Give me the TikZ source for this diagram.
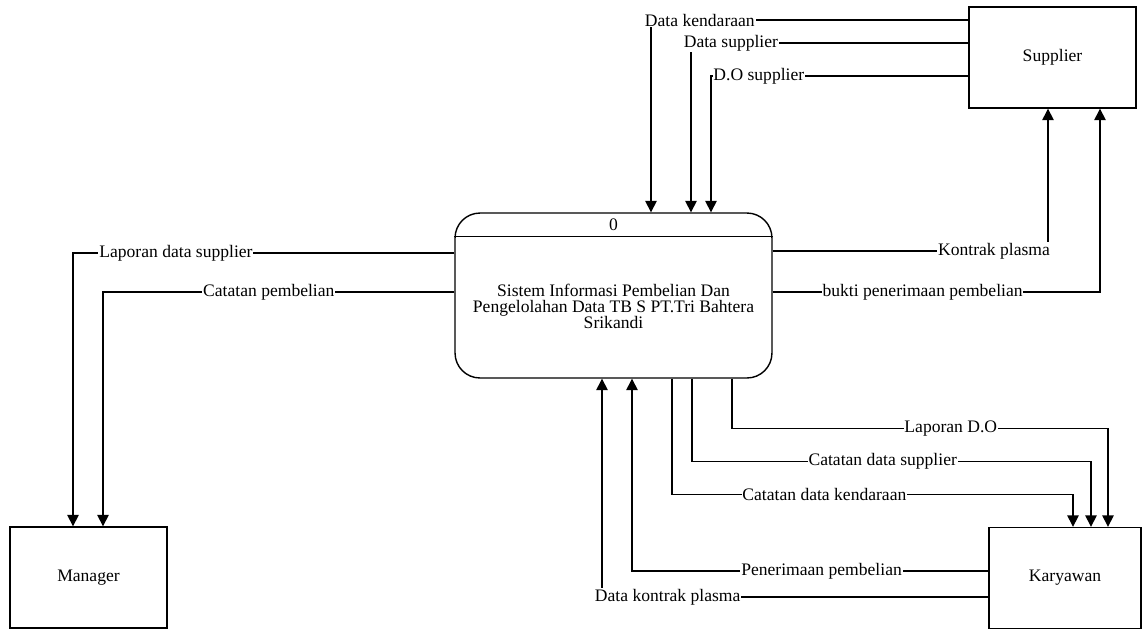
\documentclass[tikz,border=0pt]{standalone}
\usepackage{fontspec}
\setmainfont{Liberation Serif}
\usetikzlibrary{arrows.meta}

\begin{document}
\begin{tikzpicture}[x=0.02cm,y=-0.02cm]
   \tikzstyle{entity}=[draw,thick,minimum height=2.02cm,font=\fontsize{10}{12}\selectfont]
   \tikzstyle{process}=[draw,thick,rounded corners=0.5cm,minimum width=6.34cm,minimum height=3.3cm]
   \tikzstyle{arrow}=[thick,draw,-{Triangle[length=6.5pt,width=6.5pt]}]
   \tikzstyle{flow}=[fill=white,inner sep=0.5pt,font=\fontsize{10}{12}\selectfont]
   \useasboundingbox (0,0) rectangle (1142,630) ;
   \node (sup) [entity,minimum width=3.34cm] at (1052.5,57.5) {Supplier} ;
   \node (man) [entity,minimum width=3.14cm] at (88.5,577.5) {Manager} ;
   \node (kar) [entity,minimum width=3.04cm] at (1065,578) {Karyawan} ;
   \node (proc) [process] at (613.5,295.5) {} ;
   \node (pid) [font=\fontsize{10}{12}\selectfont] at (613.5,225) {0} ;
   \node (pname) [align=center,font=\fontsize{10}{9.1}\selectfont] at (613.5,306) {Sistem Informasi Pembelian Dan\\Pengelolahan Data TB S PT.Tri Bahtera\\Srikandi} ;
   \path [draw,thick] ([yshift=-0.48cm]proc.north west) -- ([yshift=-0.48cm]proc.north east) ;
   % supplier -> sistem
   \path [arrow] ([yshift=0.75cm]sup.west) -| node [flow,pos=0.423] {Data kendaraan} ([xshift=0.75cm]proc.north) ;
   \path [arrow] ([yshift=0.29cm]sup.west) -| node [flow,pos=0.428] {Data supplier} ([xshift=1.55cm]proc.north) ;
   \path [arrow] ([yshift=-0.37cm]sup.west) -| node [flow,pos=0.407] {D.O supplier} ([xshift=1.95cm]proc.north) ;
   % sistem -> supplier
   \path [arrow] ([yshift=0.89cm]proc.east) -| node [flow,pos=0.402] {Kontrak plasma} ([xshift=-0.09cm]sup.south) ;
   \path [arrow] ([yshift=0.07cm]proc.east) -| node [flow,pos=0.229] {bukti penerimaan pembelian} ([xshift=0.95cm]sup.south) ;
   % sistem -> manager
   \path [arrow] ([yshift=0.85cm]proc.west) -| node [flow,pos=0.365] {Laporan data supplier} ([xshift=-0.31cm]man.north) ;
   \path [arrow] ([yshift=0.07cm]proc.west) -| node [flow,pos=0.264] {Catatan pembelian} ([xshift=0.29cm]man.north) ;
   % sistem -> karyawan
   \path [arrow] ([xshift=2.37cm]proc.south) -- ++(0,-1cm) -| node [flow,pos=0.291] {Laporan D.O} ([xshift=0.86cm]kar.north) ;
   \path [arrow] ([xshift=1.57cm]proc.south) -- ++(0,-1.66cm) -| node [flow,pos=0.239] {Catatan data supplier} ([xshift=0.52cm]kar.north) ;
   \path [arrow] ([xshift=1.17cm]proc.south) -- ++(0,-2.32cm) -| node [flow,pos=0.19] {Catatan data kendaraan} ([xshift=0.16cm]kar.north) ;
   % karyawan -> sistem
   \path [arrow] ([yshift=0.14cm]kar.west) -| node [flow,pos=0.234] {Penerimaan pembelian} ([xshift=0.37cm]proc.south) ;
   \path [arrow] ([yshift=-0.38cm]kar.west) -| node [flow,pos=0.415] {Data kontrak plasma} ([xshift=-0.23cm]proc.south) ;
\end{tikzpicture}
\end{document}
